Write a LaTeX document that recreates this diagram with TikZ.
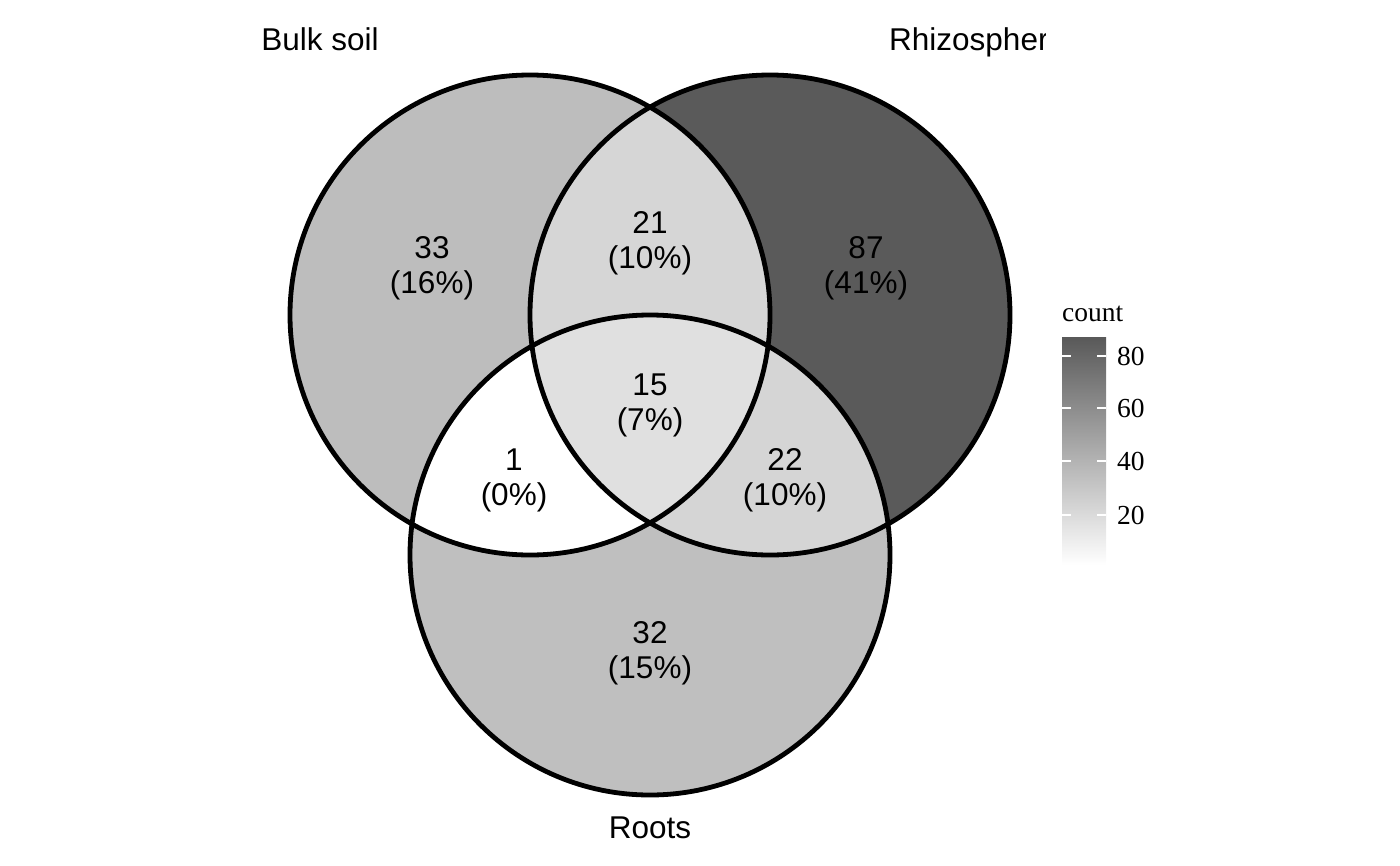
\documentclass[tikz,border=0pt]{standalone}
\usepackage{fontspec}
\setmainfont{Liberation Sans}
\newfontfamily\legendfont{Liberation Serif}
\usepackage{tikz}
\usetikzlibrary{calc}
\definecolor{bulkonly}{HTML}{BDBDBD}
\definecolor{rhizoonly}{HTML}{5A5A5A}
\definecolor{rootsonly}{HTML}{BFBFBF}
\definecolor{bulkrhizo}{HTML}{D6D6D6}
\definecolor{rhizoroots}{HTML}{D5D5D5}
\definecolor{allthree}{HTML}{E0E0E0}
\definecolor{barhigh}{HTML}{595959}
\tikzset{
  setline/.style={line width=4.8pt},
  setname/.style={inner sep=0pt,anchor=base,font=\fontsize{31.5}{37}\selectfont},
  count/.style={inner sep=0pt,align=center,font=\fontsize{31.5}{35}\selectfont},
  legendtext/.style={inner sep=0pt,font=\legendfont\fontsize{27.5}{30}\selectfont},
  tickmark/.style={white,line width=1.2pt}
}
\begin{document}
\begin{tikzpicture}[x=1pt,y=-1pt,line join=round]
  \useasboundingbox (0,0) rectangle (1400,865);
  \coordinate (B) at (530,315);
  \coordinate (R) at (770,315);
  \coordinate (T) at (650,555);
  \def\rad{240pt}
  % single sets
  \fill[bulkonly] (B) circle (\rad);
  \fill[rhizoonly] (R) circle (\rad);
  \fill[rootsonly] (T) circle (\rad);
  % pairwise overlaps
  \begin{scope}
    \clip (B) circle (\rad);
    \fill[bulkrhizo] (R) circle (\rad);
    \fill[white] (T) circle (\rad);
  \end{scope}
  \begin{scope}
    \clip (R) circle (\rad);
    \fill[rhizoroots] (T) circle (\rad);
  \end{scope}
  \begin{scope}
    \clip (B) circle (\rad);
    \clip (R) circle (\rad);
    \fill[allthree] (T) circle (\rad);
  \end{scope}
  \draw[setline] (B) circle (\rad);
  \draw[setline] (R) circle (\rad);
  \draw[setline] (T) circle (\rad);
  % set names
  \node[setname] (bulk) at (320,50) {Bulk soil};
  \begin{scope}
    \clip (0,0) rectangle (1045,865);
    \node[setname,anchor=base west] (rhizo) at (889,50) {Rhizosphere};
  \end{scope}
  \node[setname] (roots) at (650,838) {Roots};
  % counts
  \node[count] (n33) at (432,268) {33\\(16\%)};
  \node[count] (n21) at (650,243) {21\\(10\%)};
  \node[count] (n87) at (866,268) {87\\(41\%)};
  \node[count] (n15) at (650,405) {15\\(7\%)};
  \node[count] (n1) at (514,480) {1\\(0\%)};
  \node[count] (n22) at (785,480) {22\\(10\%)};
  \node[count] (n32) at (650,653) {32\\(15\%)};
  % legend
  \node[legendtext,anchor=south west] (ctitle) at (1062,322) {count};
  \shade[top color=barhigh,bottom color=white] (1062,337) rectangle (1106,565);
  \foreach \v/\yy in {80/356,60/408,40/461,20/515}{
    \draw[tickmark] (1062,\yy) -- (1071,\yy);
    \draw[tickmark] (1097,\yy) -- (1106,\yy);
    \node[legendtext,anchor=west] (tick\v) at (1117,\yy) {\v};
  }
\end{tikzpicture}
\end{document}
